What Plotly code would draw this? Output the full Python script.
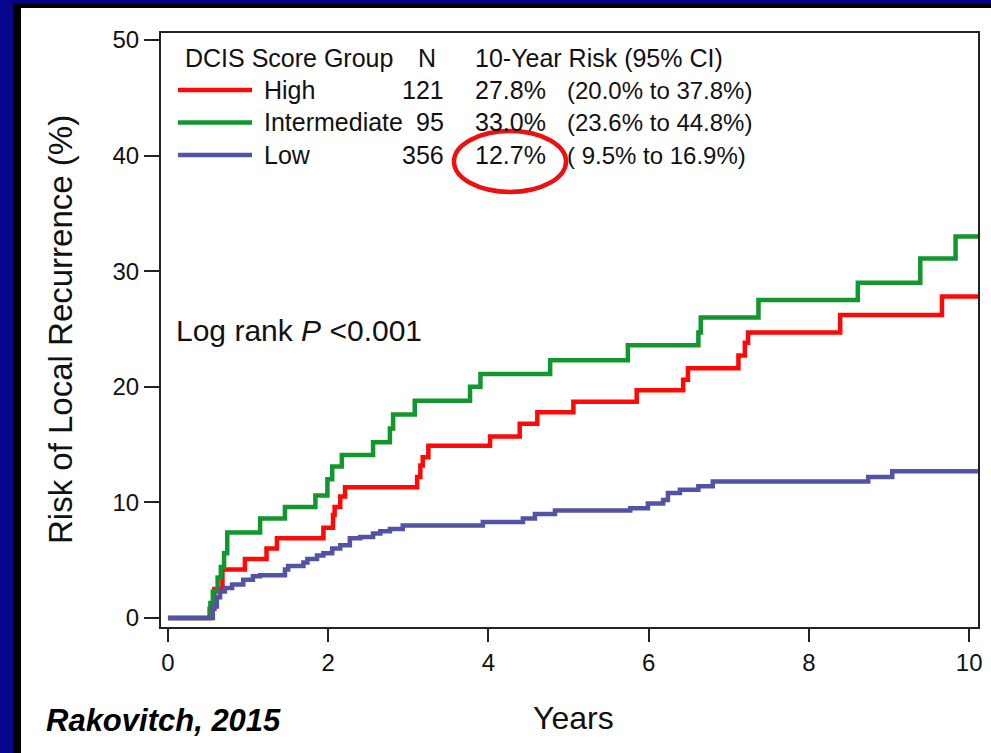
import plotly.graph_objects as go

# Cumulative local recurrence (%) by DCIS Score group, step curves
high_years = [0, 0.52, 0.58, 0.68, 0.96, 1.23, 1.36, 1.94, 2.06, 2.08, 2.15, 2.21, 3.11, 3.15,
              3.18, 3.25, 4.02, 4.39, 4.61, 5.06, 5.85, 6.43, 6.49, 7.12, 7.20, 7.24, 8.39, 9.66, 10.2]
high_risk = [0, 0.8, 2.5, 4.2, 5.1, 6.0, 6.9, 7.8, 8.9, 9.6, 10.5, 11.3, 12.2, 13.2,
             13.9, 14.9, 15.7, 16.8, 17.8, 18.7, 19.7, 20.6, 21.6, 22.7, 23.8, 24.7, 26.2, 27.8, 27.8]

inter_years = [0, 0.53, 0.56, 0.62, 0.66, 0.70, 0.74, 1.15, 1.46, 1.84, 1.99, 2.05, 2.17, 2.56,
               2.77, 2.81, 3.08, 3.77, 3.90, 4.77, 5.74, 6.62, 6.65, 7.37, 8.61, 9.39, 9.83, 10.2]
inter_risk = [0, 1.3, 2.3, 3.5, 4.4, 5.6, 7.4, 8.6, 9.6, 10.6, 12.0, 13.1, 14.1, 15.2,
              16.4, 17.6, 18.8, 20.0, 21.1, 22.3, 23.6, 24.7, 26.0, 27.5, 29.0, 31.1, 33.0, 33.0]

low_years = [0, 0.56, 0.61, 0.65, 0.71, 0.80, 0.94, 1.06, 1.15, 1.46, 1.50, 1.69, 1.74, 1.86,
             1.94, 2.05, 2.15, 2.27, 2.40, 2.56, 2.65, 2.77, 2.93, 3.93, 4.43, 4.58, 4.83, 5.77,
             5.99, 6.18, 6.24, 6.39, 6.62, 6.80, 8.74, 9.04, 10.2]
low_risk = [0, 1.0, 1.8, 2.3, 2.6, 2.9, 3.3, 3.6, 3.7, 4.2, 4.5, 4.8, 5.1, 5.4,
            5.6, 6.0, 6.3, 6.9, 7.0, 7.3, 7.5, 7.7, 8.0, 8.3, 8.6, 9.0, 9.3, 9.5,
            9.9, 10.2, 10.8, 11.1, 11.4, 11.8, 12.2, 12.7, 12.7]

groups = ["High", "Intermediate", "Low"]
group_n = ["121", "95", "356"]
ten_year_risk = ["27.8%", "33.0%", "12.7%"]
ten_year_ci = ["(20.0% to 37.8%)", "(23.6% to 44.8%)", "( 9.5% to 16.9%)"]
colors = ["#ff0808", "#12962e", "#5353a6"]

x_ticks = [0, 2, 4, 6, 8, 10]
y_ticks = [0, 10, 20, 30, 40, 50]

W, H = 991, 753
L, R, T, B = 161, 978, 33, 627


# paper coordinates span the whole figure (zero margins), measured in pixels
def px(x):
    return x / W


def py(y):
    return 1 - y / H


FONT = "Liberation Sans, Arial, sans-serif"
INK = "#111111"

fig = go.Figure()
series = [(high_years, high_risk), (inter_years, inter_risk), (low_years, low_risk)]
for name, (t, r), c in zip(groups, series, colors):
    fig.add_trace(go.Scatter(x=t, y=r, mode="lines", line=dict(color=c, width=4.5, shape="hv"),
                             name=name, showlegend=False, hoverinfo="skip"))

shapes = []
# page border: navy edge with a black inner strip (left and top only)
shapes.append(dict(type="rect", xref="paper", yref="paper", x0=0, x1=px(21), y0=0, y1=1,
                   fillcolor="#000000", line_width=0, layer="above"))
shapes.append(dict(type="rect", xref="paper", yref="paper", x0=0, x1=1, y0=py(8), y1=1,
                   fillcolor="#000000", line_width=0, layer="above"))
shapes.append(dict(type="rect", xref="paper", yref="paper", x0=0, x1=px(13), y0=0, y1=1,
                   fillcolor="#06068a", line_width=0, layer="above"))
shapes.append(dict(type="rect", xref="paper", yref="paper", x0=0, x1=1, y0=py(3), y1=1,
                   fillcolor="#06068a", line_width=0, layer="above"))

annotations = []


def text(x, y, s, size, anchor="left", **kw):
    annotations.append(dict(x=px(x), y=py(y), xref="paper", yref="paper", text=s, showarrow=False,
                            xanchor=anchor, yanchor="middle",
                            font=dict(family=FONT, size=size, color=INK), **kw))


# legend table
LEG = 25
text(183, 58, "DCIS Score Group", LEG)
text(427, 58, "N", LEG, anchor="center")
text(473, 58, "10-Year Risk (95% CI)", LEG)
for i, (g, n, rk, ci, c) in enumerate(zip(groups, group_n, ten_year_risk, ten_year_ci, colors)):
    yy = 90 + i * 32.5
    shapes.append(dict(type="line", xref="paper", yref="paper", x0=px(178), x1=px(252),
                       y0=py(yy), y1=py(yy), line=dict(color=c, width=4.5)))
    text(262, yy, g, LEG)
    text(446, yy, n, LEG, anchor="right")
    text(473, yy, rk, LEG)
    text(565, yy, ci, 24)

# highlight around the Low-group 10-year risk
shapes.append(dict(type="circle", xref="paper", yref="paper", x0=px(454), x1=px(566),
                   y0=py(192), y1=py(131), line=dict(color="#ee1010", width=4.5)))

text(174, 330, "Log rank <i>P</i> <0.001", 30)
text(573, 718, "Years", 32, anchor="center")
text(60, 330, "Risk of Local Recurrence (%)", 33, anchor="center", textangle=-90)
annotations.append(dict(x=px(44), y=py(720), xref="paper", yref="paper",
                        text="<b><i>Rakovitch, 2015</i></b>", showarrow=False,
                        xanchor="left", yanchor="middle",
                        font=dict(family=FONT, size=31, color="#000000")))

axis_common = dict(showline=True, linecolor="#222222", linewidth=2, mirror=True, showgrid=False,
                   zeroline=False, ticks="outside", tickwidth=2, tickcolor="#222222",
                   automargin=False, tickfont=dict(family=FONT, size=24, color=INK))

fig.update_layout(
    width=W, height=H,
    margin=dict(l=0, r=0, t=0, b=0, pad=0),
    paper_bgcolor="white", plot_bgcolor="white",
    xaxis=dict(domain=[px(L), px(R)], range=[-0.087, 10.11], tickvals=x_ticks, ticklen=13,
               **axis_common),
    yaxis=dict(domain=[py(B), py(T)], range=[-0.78, 50.6], tickvals=y_ticks, ticklen=15,
               **axis_common),
    shapes=shapes, annotations=annotations,
)

fig.write_html("out.html", config={"displayModeBar": False})
